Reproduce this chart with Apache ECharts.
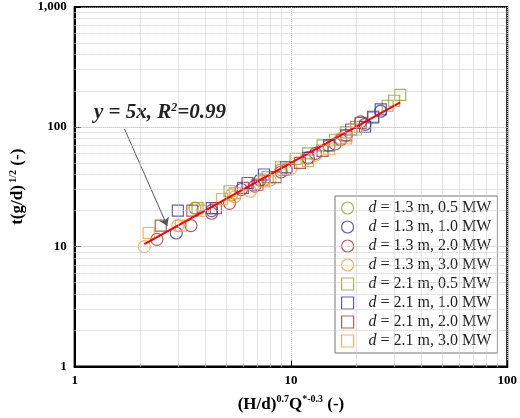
<!DOCTYPE html><html><head><meta charset="utf-8"><script src="https://cdn.jsdelivr.net/npm/echarts@6/dist/echarts.min.js"></script></head><body style="margin:0"><div id="c" style="width:520px;height:418px"></div><script>
const names=['d = 1.3 m, 0.5 MW','d = 1.3 m, 1.0 MW','d = 1.3 m, 2.0 MW','d = 1.3 m, 3.0 MW','d = 2.1 m, 0.5 MW','d = 2.1 m, 1.0 MW','d = 2.1 m, 2.0 MW','d = 2.1 m, 3.0 MW'];
const colors=['#9a9a30','#3535b0','#a03535','#ff9933','#9a9a30','#3535b0','#a03535','#ff9933'];
const symbols=['circle','circle','circle','circle','rect','rect','rect','rect'];
const s1=[[3.6,21],[5.3,27],[7.5,36],[9,44],[12,55],[15,70],[18,85]];
const s2=[[2.95,13],[4.3,20],[5.9,30],[7.2,36],[9.5,44],[13,60],[17,78],[22,105],[26,135]];
const s3=[[2.4,11.5],[3.45,15],[4.3,19],[5.2,23],[6.8,32],[9,42],[12,55],[16,72],[21,110]];
const s4=[[2.1,10],[3.0,15],[3.9,20],[5.5,26],[6.5,29],[8,36],[10,45],[13,58],[17,80]];
const s5=[[3.7,21],[5.2,29],[7.8,38],[9,46],[10.5,54],[12,60],[14,70],[16,78],[18,90],[20,100],[24,122],[28,150],[30,165],[32,185]];
const s6=[[3.0,20],[4.3,21],[6.3,34],[7.5,40],[9.5,46],[12,55],[15,70],[19,95],[22,100],[24,120],[26,140]];
const s7=[[2.5,15],[3.5,20],[4.5,21],[6,31],[7,33],[8.5,38],[11,50],[14,63],[18,85],[21,108]];
const s8=[[2.2,13],[3.1,15],[4.8,25],[5.5,28],[7.5,35],[9.5,44],[12,52],[15,65],[18,80],[20,95]];
const seriesData=[s1,s2,s3,s4,s5,s6,s7,s8];
const fitLine=[[2.1,10.5],[32,160]];
const arrow=[[1.7,96],[2.68,14.9]];
const xGrid=[2,3,4,5,6,7,8,9,20,30,40,50,60,70,80,90];
const yGrid=[2,3,4,5,6,7,8,9,10,20,30,40,50,60,70,80,90,100,200,300,400,500,600,700,800,900];
const F='"Liberation Serif","Times New Roman",serif';
const ch=echarts.init(document.getElementById('c'));
const gl={type:'dotted',color:'#c8c8c8',width:1};
const series=seriesData.map((d,i)=>({name:names[i],type:'scatter',data:d,symbol:symbols[i],symbolSize:symbols[i]==='rect'?11:12,
 itemStyle:{color:'rgba(0,0,0,0)',borderColor:colors[i],borderWidth:1.2},z:3}));
series.push({type:'line',data:fitLine,symbol:'none',lineStyle:{color:'#ff0000',width:2},z:4,silent:true,
 markLine:{silent:true,symbol:['none','arrow'],symbolSize:8,lineStyle:{color:'#555',width:1,type:'solid'},label:{show:false},
  data:[[{coord:arrow[0]},{coord:arrow[1]}]]}});
series.push({type:'line',data:[],silent:true,markLine:{silent:true,symbol:'none',label:{show:false},lineStyle:gl,
 data:xGrid.map(v=>({xAxis:v})).concat(yGrid.map(v=>({yAxis:v})))}});
ch.setOption({animation:false,
 grid:{left:63,right:12,top:7,bottom:49,show:true,borderColor:'#000',borderWidth:2},
 xAxis:{type:'log',min:1,max:100,logBase:10,axisLine:{lineStyle:{color:'#000',width:2}},axisTick:{inside:true,length:6,lineStyle:{color:'#000'}},
  splitLine:{show:true,lineStyle:gl},axisLabel:{fontFamily:F,fontWeight:'bold',fontSize:13,color:'#000'},
  name:'{a|(H/d)}{s|0.7}{a|Q}{s|*-0.3}{a| (-)}',nameLocation:'middle',nameGap:28,
  nameTextStyle:{rich:{a:{fontFamily:F,fontWeight:'bold',fontSize:17,color:'#000'},s:{fontFamily:F,fontWeight:'bold',fontSize:10,color:'#000',verticalAlign:'top',padding:[0,0,10,0]}}}},
 yAxis:{type:'log',min:1,max:1000,logBase:10,axisLine:{lineStyle:{color:'#000',width:2}},axisTick:{inside:true,length:6,lineStyle:{color:'#000'}},
  splitLine:{show:true,lineStyle:gl},axisLabel:{fontFamily:F,fontWeight:'bold',fontSize:13,color:'#000',formatter:v=>v>=1000?'1,000':String(v)},
  name:'{a|t(g/d)}{s| 1/2}{a| (-)}',nameLocation:'middle',nameGap:40,
  nameTextStyle:{rich:{a:{fontFamily:F,fontWeight:'bold',fontSize:17,color:'#000'},s:{fontFamily:F,fontWeight:'bold',fontSize:10,color:'#000',padding:[0,0,10,0]}}}},
 legend:{orient:'vertical',left:335,top:196,itemGap:3,itemWidth:12,itemHeight:12,padding:[4,6,4,6],
  backgroundColor:'#fff',borderColor:'#777',borderWidth:1,
  data:names.map((n,i)=>({name:n,icon:symbols[i]==='rect'?'rect':'circle',itemStyle:{color:'rgba(0,0,0,0)',borderColor:colors[i],borderWidth:1.2}})),
  formatter:n=>'{i|d}{t|'+n.slice(1)+'}',
  textStyle:{rich:{i:{fontFamily:F,fontStyle:'italic',fontSize:16,color:'#222',padding:[0,0,0,10],height:17},t:{fontFamily:F,fontSize:16,color:'#222',height:17}}}},
 graphic:[{type:'text',left:94,top:102,style:{rich:{a:{font:'italic bold 21px "Liberation Serif"',fill:'#222'},s:{font:'italic bold 12px "Liberation Serif"',fill:'#222',verticalAlign:'top',padding:[0,0,10,0]}},
  text:'{a|y = 5x, R}{s|2}{a|=0.99}'}}],
 series});
</script></body></html>
